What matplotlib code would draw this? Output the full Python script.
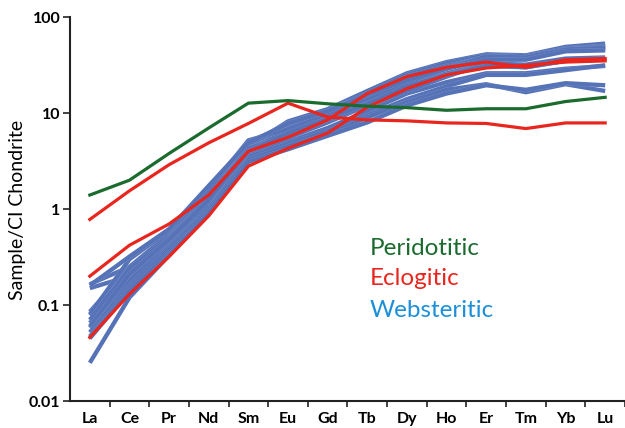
"""
REE spider diagram: chondrite-normalised patterns of
peridotitic, eclogitic and websteritic samples.
"""

import numpy as np
import matplotlib
matplotlib.use('Agg')
import matplotlib.pyplot as plt
import matplotlib.patheffects as pe


# 元素 (x 轴类别)
ELEMENTS = ['La', 'Ce', 'Pr', 'Nd', 'Sm', 'Eu', 'Gd', 'Tb',
            'Dy', 'Ho', 'Er', 'Tm', 'Yb', 'Lu']

# Peridotitic (一条)
PERIDOTITIC = [1.4, 2.0, 3.8, 7.0, 12.7, 13.5, 12.5, 11.8,
               11.4, 10.7, 11.1, 11.1, 13.2, 14.6]

# Eclogitic (三条)
ECLOGITIC = [
    [0.78, 1.55, 2.9, 4.9, 7.8, 12.7, 9.1, 8.5, 8.3, 7.9, 7.8, 6.9, 7.9, 7.9],
    [0.20, 0.42, 0.70, 1.4, 4.0, 5.6, 8.5, 16.0, 24, 30, 34, 30, 36, 37],
    [0.046, 0.13, 0.32, 0.85, 2.8, 4.3, 6.2, 11.5, 18, 25, 29.5, 31.5, 34, 35],
]

# Websteritic (多条)
WEBSTERITIC = [
    [0.165, 0.25, 0.45, 1.2, 4.5, 8.2, 11.0, 17.0, 26, 34, 41, 40, 49, 53],
    [0.15, 0.20, 0.55, 1.5, 5.0, 7.5, 10.5, 16.0, 25, 33, 40, 39, 47, 50],
    [0.085, 0.25, 0.55, 1.4, 4.8, 7.0, 10.0, 15.0, 24, 31, 38, 37, 45, 46],
    [0.078, 0.22, 0.50, 1.3, 4.2, 6.5, 9.5, 14.0, 22, 30, 38, 37, 46, 49],
    [0.065, 0.20, 0.45, 1.2, 4.0, 6.0, 9.0, 13.0, 20, 26, 33, 31, 36, 37],
    [0.058, 0.18, 0.42, 1.1, 3.8, 5.5, 8.0, 12.0, 18, 25, 32, 30, 35, 36],
    [0.052, 0.16, 0.40, 1.0, 3.6, 5.0, 7.0, 10.5, 16, 21, 26, 26, 29, 31],
    [0.047, 0.15, 0.38, 1.0, 3.5, 4.8, 6.5, 9.5, 14, 19, 25, 25, 28, 31.5],
    [0.045, 0.14, 0.35, 0.95, 3.3, 4.5, 6.0, 9.0, 13, 17.5, 20, 16.5, 20, 17],
    [0.025, 0.12, 0.33, 0.90, 3.1, 4.2, 5.8, 8.0, 12, 16, 19.5, 17.5, 20.5, 19.5],
    [0.080, 0.30, 0.60, 1.6, 5.2, 6.8, 9.8, 14.0, 21, 29, 39, 38, 46, 48],
    [0.070, 0.24, 0.50, 1.3, 4.3, 5.8, 8.5, 12.0, 17, 24, 33, 32, 37, 38],
    [0.160, 0.32, 0.62, 1.75, 4.9, 7.8, 10.5, 15.5, 22, 29, 36, 36, 44, 45],
    [0.060, 0.21, 0.48, 1.25, 4.0, 6.2, 8.8, 12.5, 19, 25, 31, 30, 35, 37],
]

Y_TICKS = [0.01, 0.1, 1, 10, 100]
Y_TICK_LABELS = ['0.01', '0.1', '1', '10', '100']

LEGEND_NAMES = ['Peridotitic', 'Eclogitic', 'Websteritic']

# 颜色
GREEN = '#1b6b2f'
RED = '#e8261e'
BLUE = '#5673b8'
TEXT_BLUE = '#1c8fd8'

plt.rcParams['font.family'] = ['Lato', 'DejaVu Sans']

fig = plt.figure(figsize=(6.25, 4.28), dpi=100)
ax = fig.add_axes([0.112, 0.063, 0.888, 0.897])

x = np.arange(len(ELEMENTS))

# 绘制曲线: blue -> red -> green
blue_fx = [pe.Stroke(linewidth=3.4, foreground='white', alpha=0.25), pe.Normal()]
for row in WEBSTERITIC:
    ax.plot(x, row, color=BLUE, lw=3.1, solid_joinstyle='round',
            solid_capstyle='butt', path_effects=blue_fx)
for row in ECLOGITIC:
    ax.plot(x, row, color=RED, lw=2.3, solid_joinstyle='round')
ax.plot(x, PERIDOTITIC, color=GREEN, lw=2.3, solid_joinstyle='round')

# 坐标轴
ax.set_yscale('log')
ax.set_ylim(0.01, 100)
ax.set_xlim(-0.5, 13.375)
ax.set_yticks(Y_TICKS)
ax.set_yticklabels(Y_TICK_LABELS, fontweight='bold', fontsize=11.5)
ax.yaxis.set_minor_locator(matplotlib.ticker.NullLocator())

ax.set_xticks(x)
ax.set_xticklabels(ELEMENTS, fontweight='bold', fontsize=11.5)
ax.set_xticks(np.arange(len(ELEMENTS)) + 0.5, minor=True)
ax.tick_params(axis='x', which='major', length=0, pad=8)
ax.tick_params(axis='x', which='minor', length=4, width=1.2, color='#222222')
ax.tick_params(axis='y', which='major', length=5, width=1.2, color='#222222', pad=2)

for side in ['top', 'right']:
    ax.spines[side].set_visible(False)
for side in ['left', 'bottom']:
    ax.spines[side].set_linewidth(1.5)
    ax.spines[side].set_color('#222222')

fig.text(18 / 625, 1 - 210 / 428, 'Sample/CI Chondrite', rotation=90,
         ha='center', va='center', fontsize=14)

# 图例文字
for name, color, yb in zip(LEGEND_NAMES, [GREEN, RED, TEXT_BLUE],
                           [0.380, 0.302, 0.219]):
    ax.text(0.54, yb, name, transform=ax.transAxes, color=color,
            fontsize=17.5, ha='left', va='baseline')

plt.savefig('out.png', dpi=100)
plt.close()
